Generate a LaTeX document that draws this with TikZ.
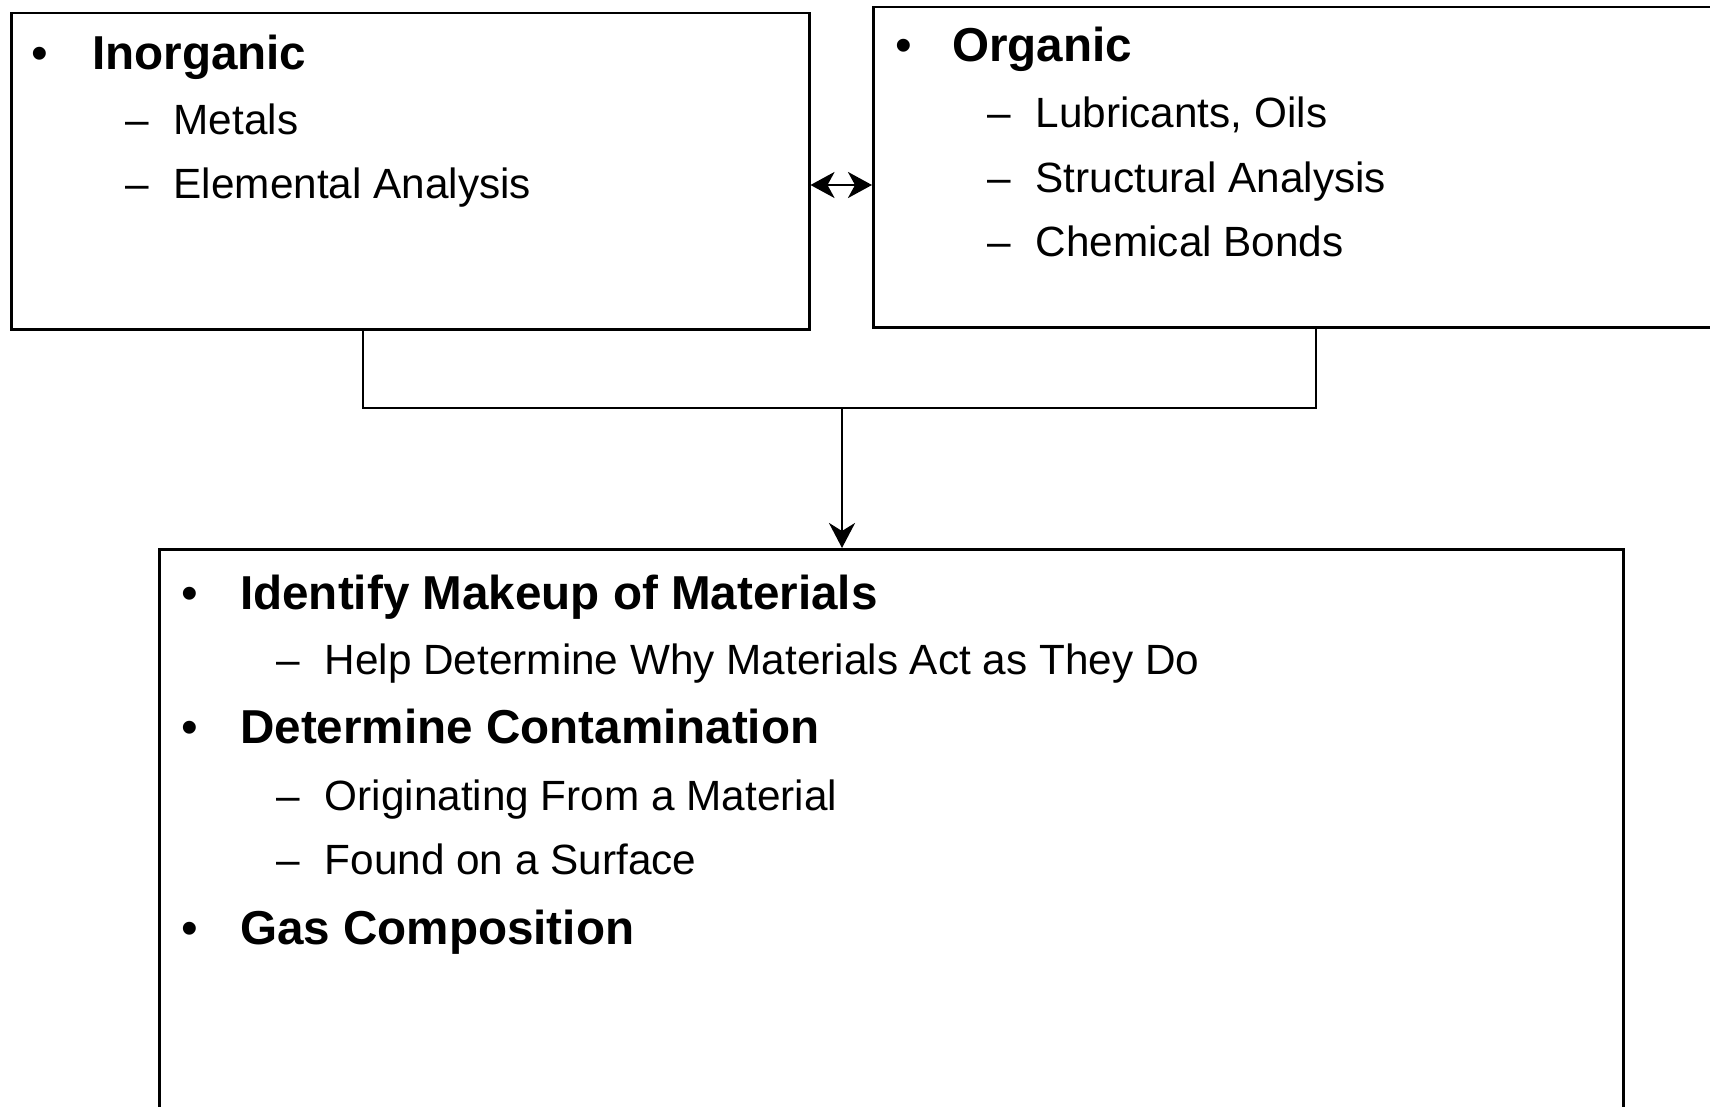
\documentclass[tikz,border=0pt]{standalone}
\usepackage{fontspec}
\setmainfont{Liberation Sans}
\usetikzlibrary{arrows.meta}
\begin{document}
\begin{tikzpicture}[x=1pt,y=-1pt,
        panel/.style={draw,line width=2.5pt,anchor=north west,inner sep=0pt},
        headitem/.style={anchor=base west,inner sep=0pt,font=\fontsize{47.6}{56}\selectfont\bfseries},
        subitem/.style={anchor=base west,inner sep=0pt,font=\fontsize{42.3}{50}\selectfont},
        bul/.style={anchor=base west,inner sep=0pt,font=\fontsize{47.6}{56}\selectfont},
        link/.style={line width=2.8pt},
        tip/.style={line width=2.5pt}]
        \useasboundingbox (0,0) rectangle (1710,1107);
        %% boxes
        \node[panel,minimum width=798pt,minimum height=316pt] (inorg) at (10,12) {};
        \node[panel,minimum width=850pt,minimum height=320pt] (org) at (872,6) {};
        \node[panel,minimum width=1464pt,minimum height=560pt] (result) at (158,548) {};
        %% inorganic
        \node[bul] (b1) at (31,70) {•};
        \node[headitem] (inorgtxt) at (92,70) {Inorganic};
        \node[subitem] (metals) at (125,135) {–\hspace{25pt}Metals};
        \node[subitem] (elem) at (125,199) {–\hspace{25pt}Elemental Analysis};
        %% organic
        \node[bul] (b2) at (895,62) {•};
        \node[headitem] (orgtxt) at (952,62) {Organic};
        \node[subitem] (lub) at (987,128) {–\hspace{25pt}Lubricants, Oils};
        \node[subitem] (struct) at (987,193) {–\hspace{25pt}Structural Analysis};
        \node[subitem] (chem) at (987,257) {–\hspace{25pt}Chemical Bonds};
        %% result
        \node[bul] (b3) at (181,609) {•};
        \node[headitem] (ident) at (240,609) {Identify Makeup of Materials};
        \node[subitem] (help) at (276,674) {–\hspace{25pt}Help Determine Why Materials Act as They Do};
        \node[bul] (b4) at (181,743) {•};
        \node[headitem] (contam) at (240,743) {Determine Contamination};
        \node[subitem] (orig) at (276,810) {–\hspace{25pt}Originating From a Material};
        \node[subitem] (found) at (276,874) {–\hspace{25pt}Found on a Surface};
        \node[bul] (b5) at (181,944) {•};
        \node[headitem] (gas) at (240,944) {Gas Composition};
        %% connectors
        \coordinate (jl) at (363,408);
        \coordinate (jr) at (1316,408);
        \coordinate (jm) at (842,408);
        \coordinate (dbl) at (840,185);
        \draw[link] (inorg.south -| jl) -- (jl) -- (jr) -- (org.south -| jr);
        \draw[link,-{Stealth[length=25pt,width=26pt,inset=8pt]}] (jm) -- (result.north -| jm);
        \draw[tip,{Stealth[length=24pt,width=26pt,inset=7pt]}-{Stealth[length=24pt,width=26pt,inset=7pt]}]
            (inorg.east |- dbl) -- (org.west |- dbl);
    \end{tikzpicture}
\end{document}
